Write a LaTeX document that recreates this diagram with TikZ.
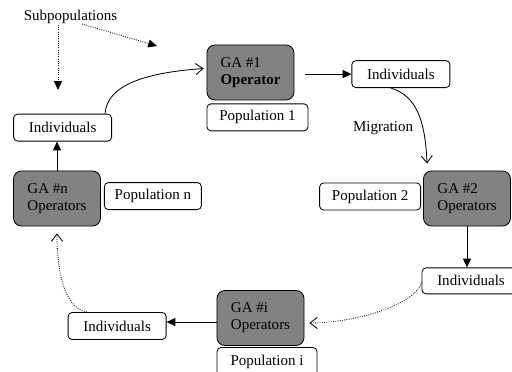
\documentclass[tikz,border=0pt]{standalone}
\usepackage{fontspec}
\setmainfont{Liberation Serif}
\usetikzlibrary{arrows.meta, positioning, calc}
\newcommand{\diagfont}{\fontsize{10.67}{12.2}\selectfont}

\begin{document}
\begin{tikzpicture}[
    x=0.025cm, y=-0.025cm,
    gabox/.style={draw, rounded corners=0.2cm, fill=black!49, minimum width=2.175cm, minimum height=1.375cm, align=left, font=\diagfont, line width=0.6pt},
    popbox/.style={draw, rounded corners=0.1cm, fill=white, minimum width=2.45cm, minimum height=0.675cm, inner sep=0pt, font=\diagfont, line width=0.6pt},
    txtlabel/.style={font=\diagfont, inner sep=0pt},
    flow/.style={-{Triangle[length=0.22cm, width=0.2cm]}, line width=0.6pt},
    mig/.style={-{Straight Barb[length=0.18cm, width=0.28cm]}, line width=0.6pt},
    mig_dot/.style={mig, densely dotted},
    sub_dot/.style={flow, densely dotted}
]
    \useasboundingbox (0,0) rectangle (512,372);

    \node[gabox] (ga1) at (250.5, 72.5) {GA \#1\\\textbf{Operator}};
    \node[gabox] (ga2) at (467, 198.5) {GA \#2\\Operators};
    \node[gabox] (gai) at (260.5, 318) {GA \#i\\Operators};
    \node[gabox] (gan) at (57, 198.5) {GA \#n\\Operators};

    \node[popbox, minimum width=2.525cm] (pop1) [below right=0.075cm and 0cm of ga1.south west] {Population 1};
    \node[popbox, minimum width=2.525cm] (pop2) [left=0.05cm of ga2, yshift=0.05cm] {Population 2};
    \node[popbox, minimum width=2.5cm, minimum height=0.725cm] (popi) [below right=0.03cm and 0cm of gai.south west] {Population i};
    \node[popbox, minimum width=2.425cm] (popn) [right=0.075cm of gan, yshift=0.06cm] {Population n};

    \node[popbox] (ind1) [right=1.425cm of ga1, yshift=-0.04cm] {Individuals};
    \node[popbox, minimum height=0.65cm] (ind2) [below=1.025cm of ga2, xshift=0.1cm] {Individuals};
    \node[popbox] (indi) [left=1.25cm of gai, yshift=-0.2cm] {Individuals};
    \node[popbox] (indn) [above=0.725cm of gan, xshift=0.14cm] {Individuals};

    \node[txtlabel] (sub) at (70.5, 17) {Subpopulations};
    \node[txtlabel] (lbl_mig) at (383, 128) {Migration};

    \coordinate (sub_a) at (58, 90);
    \coordinate (sub_b) at (157, 46);
    \draw[sub_dot] ($(sub.center)+(-12.5,8)$) -- (sub_a);
    \draw[sub_dot] ($(sub.center)+(11.5,7)$) -- (sub_b);

    \draw[flow, shorten <=0.275cm] (ga1.east |- ind1.west) -- (ind1.west);
    \draw[mig] ($(ind1.south)+(-10,0)$) .. controls +(25,8) and +(-2,-45) .. ($(ga2.north west)+(4,-7)$);
    \draw[flow] (ga2.south) -- (ga2.south |- ind2.north);
    \draw[mig_dot] ($(ind2.west)+(0,2)$) .. controls +(-10,25) and +(40,0) .. ($(gai.east)+(5,5)$);

    \coordinate (gai_out) at ([yshift=-0.1cm]gai.west);
    \draw[flow] (gai_out) -- (gai_out -| indi.east);
    \draw[mig_dot] ($(indi.north west)+(19,0)$) .. controls +(-25,-5) and +(0,30) .. ($(gan.south)+(0,7)$);
    \draw[flow] (gan.north) -- (gan.north |- indn.south);
    \draw[mig] ($(indn.north east)+(-7,0)$) .. controls +(2,-30) and +(-55,4) .. ($(ga1.west)+(-3,-4)$);
\end{tikzpicture}
\end{document}
